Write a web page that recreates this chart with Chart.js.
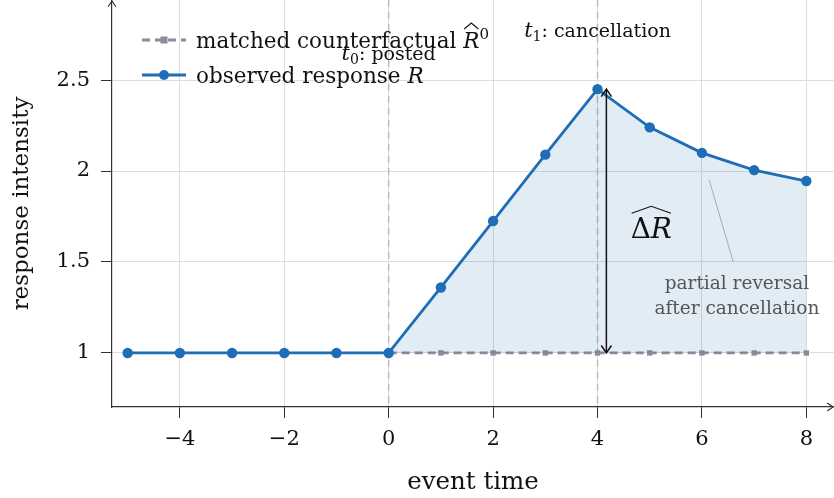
<!DOCTYPE html>
<html lang="en">
<head>
  <meta charset="utf-8">
  <title>Response around event</title>
  <script src="https://cdn.jsdelivr.net/npm/chart.js@4"></script>
  <style>
body { margin: 0; background: #fff; }
#wrap { width: 834px; height: 498px; position: relative; }
  </style>
</head>
<body>
  <div id="wrap"><canvas id="chart"></canvas></div>
  <script>
// data
const eventTime = [-5, -4, -3, -2, -1, 0, 1, 2, 3, 4, 5, 6, 7, 8];
const observed = [1, 1, 1, 1, 1, 1, 1.36, 1.725, 2.09, 2.45, 2.24, 2.10, 2.005, 1.945];
const cfTime = [0, 1, 2, 3, 4, 5, 6, 7, 8];
const counterfactual = [1, 1, 1, 1, 1, 1, 1, 1, 1];
const xTicks = [-4, -2, 0, 2, 4, 6, 8];
const yTicks = [1, 1.5, 2, 2.5];
const tPosted = 0;
const tCancel = 4;

const FONT = '"DejaVu Serif", "Liberation Serif", serif';
const reg = (s) => `${s}px ${FONT}`;
const ita = (s) => `italic ${s}px ${FONT}`;
const BLUE = '#1f6db4';
const GREY = '#8a8d96';

// draws a sequence of text pieces, returns their x extents
function drawRuns(ctx, x, y, parts, align) {
  let w = 0;
  parts.forEach(p => { ctx.font = p.font; p.w = ctx.measureText(p.t).width; w += p.w; });
  let cx = align === 'center' ? x - w / 2 : x;
  const out = [];
  parts.forEach(p => {
    ctx.font = p.font;
    ctx.fillText(p.t, cx, y + (p.dy || 0));
    out.push([cx, cx + p.w]);
    cx += p.w;
  });
  return out;
}

function hat(ctx, x0, x1, yb, h) {
  ctx.beginPath();
  ctx.moveTo(x0, yb);
  ctx.lineTo((x0 + x1) / 2, yb - h);
  ctx.lineTo(x1, yb);
  ctx.lineWidth = 1.1;
  ctx.stroke();
}

function arrowHead(ctx, x, y, dx, dy, size) {
  // open chevron pointing along (dx,dy)
  const a = Math.atan2(dy, dx);
  ctx.beginPath();
  ctx.moveTo(x - size * Math.cos(a - 0.6), y - size * Math.sin(a - 0.6));
  ctx.lineTo(x, y);
  ctx.lineTo(x - size * Math.cos(a + 0.6), y - size * Math.sin(a + 0.6));
  ctx.stroke();
}

const decor = {
  id: 'decor',
  beforeDatasetsDraw(chart) {
    const { ctx, chartArea: ca, scales: { x } } = chart;
    ctx.save();
    ctx.strokeStyle = '#bdbdbd';
    ctx.lineWidth = 1.5;
    ctx.setLineDash([7, 5]);
    [tPosted, tCancel].forEach(t => {
      const px = x.getPixelForValue(t);
      ctx.beginPath();
      ctx.moveTo(px, ca.top);
      ctx.lineTo(px, ca.bottom);
      ctx.stroke();
    });
    ctx.restore();
  },
  afterDatasetsDraw(chart) {
    const { ctx, chartArea: ca, scales: { x, y } } = chart;
    ctx.save();
    ctx.fillStyle = '#111';
    ctx.strokeStyle = '#111';
    ctx.textBaseline = 'alphabetic';

    // event labels
    drawRuns(ctx, x.getPixelForValue(tPosted), 60, [
      { t: 't', font: ita(21) }, { t: '0', font: reg(14), dy: 4 }, { t: ': posted', font: reg(19) }
    ], 'center');
    drawRuns(ctx, x.getPixelForValue(tCancel), 37, [
      { t: 't', font: ita(21) }, { t: '1', font: reg(14), dy: 4 }, { t: ': cancellation', font: reg(19) }
    ], 'center');

    // double arrow for the effect
    const ax = x.getPixelForValue(4.17);
    const yTop = y.getPixelForValue(observed[eventTime.indexOf(tCancel)]);
    const yBot = y.getPixelForValue(counterfactual[cfTime.indexOf(tCancel)]);
    ctx.lineWidth = 1.5;
    ctx.beginPath();
    ctx.moveTo(ax, yTop);
    ctx.lineTo(ax, yBot);
    ctx.stroke();
    arrowHead(ctx, ax, yTop, 0, -1, 9);
    arrowHead(ctx, ax, yBot, 0, 1, 9);

    const dBase = y.getPixelForValue(1.63);
    const dp = drawRuns(ctx, x.getPixelForValue(5.03), dBase, [
      { t: '\u0394', font: reg(28) }, { t: 'R', font: ita(28) }
    ], 'center');
    hat(ctx, dp[0][0] + 1, dp[1][1] - 1, dBase - 25, 7);

    // note
    ctx.strokeStyle = '#aaa';
    ctx.lineWidth = 1;
    ctx.beginPath();
    ctx.moveTo(x.getPixelForValue(6.14), y.getPixelForValue(1.95));
    ctx.lineTo(x.getPixelForValue(6.6), y.getPixelForValue(1.5));
    ctx.stroke();
    ctx.fillStyle = '#555';
    ctx.font = reg(18.5);
    ctx.textAlign = 'center';
    ctx.fillText('partial reversal', x.getPixelForValue(6.67), 289);
    ctx.fillText('after cancellation', x.getPixelForValue(6.67), 314);
    ctx.textAlign = 'left';

    // axis arrows
    ctx.strokeStyle = '#333';
    ctx.lineWidth = 1.2;
    arrowHead(ctx, ca.left, ca.top + 1, 0, -1, 7);
    arrowHead(ctx, ca.right - 1, ca.bottom, 1, 0, 7);

    // legend
    const lx = 142, lw = 44, tx = 196;
    ctx.lineWidth = 2.8;
    ctx.strokeStyle = GREY;
    ctx.setLineDash([8, 5]);
    ctx.beginPath(); ctx.moveTo(lx, 40); ctx.lineTo(lx + lw, 40); ctx.stroke();
    ctx.setLineDash([]);
    ctx.fillStyle = GREY;
    ctx.fillRect(lx + lw / 2 - 3.5, 40 - 3.5, 7, 7);
    ctx.strokeStyle = BLUE;
    ctx.beginPath(); ctx.moveTo(lx, 75); ctx.lineTo(lx + lw, 75); ctx.stroke();
    ctx.fillStyle = BLUE;
    ctx.beginPath(); ctx.arc(lx + lw / 2, 75, 5, 0, Math.PI * 2); ctx.fill();

    ctx.fillStyle = '#111';
    ctx.strokeStyle = '#111';
    const l1 = drawRuns(ctx, tx, 48, [
      { t: 'matched counterfactual ', font: reg(21.5) }, { t: 'R', font: ita(21.5) }, { t: '0', font: reg(15), dy: -9 }
    ], 'left');
    hat(ctx, l1[1][0] + 1, l1[1][1] - 1, 48 - 19, 6);
    drawRuns(ctx, tx, 83, [
      { t: 'observed response ', font: reg(21.5) }, { t: 'R', font: ita(21.5) }
    ], 'left');
    ctx.restore();
  }
};

const fmt = (v) => (v < 0 ? '\u2212' + Math.abs(v) : String(v));

new Chart(document.getElementById('chart'), {
  type: 'line',
  data: {
    datasets: [
      {
        label: 'observed response R',
        data: eventTime.map((t, i) => ({ x: t, y: observed[i] })),
        borderColor: BLUE,
        backgroundColor: 'rgba(31, 109, 180, 0.13)',
        pointBackgroundColor: BLUE,
        pointBorderWidth: 0,
        pointRadius: 5.2,
        borderWidth: 2.8,
        fill: { value: 1 },
        order: 1
      },
      {
        label: 'matched counterfactual',
        data: cfTime.map((t, i) => ({ x: t, y: counterfactual[i] })),
        borderColor: GREY,
        backgroundColor: GREY,
        pointStyle: 'rect',
        pointRadius: 3.8,
        pointBorderWidth: 0,
        borderWidth: 2.8,
        borderDash: [8, 5],
        fill: false,
        order: 2
      }
    ]
  },
  options: {
    responsive: true,
    maintainAspectRatio: false,
    animation: false,
    layout: { padding: 0, autoPadding: false },
    plugins: { legend: { display: false }, tooltip: { enabled: false } },
    scales: {
      x: {
        type: 'linear',
        min: -5.3,
        max: 8.53,
        afterFit: (s) => { s.height = 91; s.paddingLeft = 0; s.paddingRight = 0; },
        afterBuildTicks: (s) => { s.ticks = xTicks.map(v => ({ value: v })); },
        grid: { color: '#dcdde2', tickColor: '#333', tickLength: 11, lineWidth: 1 },
        border: { color: '#333', width: 1.2 },
        ticks: { color: '#111', font: { family: FONT, size: 21 }, padding: 9, callback: fmt, maxRotation: 0 },
        title: { display: true, text: 'event time', color: '#111', font: { family: FONT, size: 24.5 }, padding: { top: 0, bottom: 1 } }
      },
      y: {
        min: 0.703,
        max: 2.94,
        afterFit: (s) => { s.width = 112; s.paddingTop = 0; s.paddingBottom = 0; },
        afterBuildTicks: (s) => { s.ticks = yTicks.map(v => ({ value: v })); },
        grid: { color: '#dcdde2', tickColor: '#333', tickLength: 11, lineWidth: 1 },
        border: { color: '#333', width: 1.2 },
        ticks: { color: '#111', font: { family: FONT, size: 21 }, padding: 11, callback: fmt },
        title: { display: true, text: 'response intensity', color: '#111', font: { family: FONT, size: 23 }, padding: { top: 8, bottom: 0 } }
      }
    }
  },
  plugins: [decor]
});
  </script>
</body>
</html>
